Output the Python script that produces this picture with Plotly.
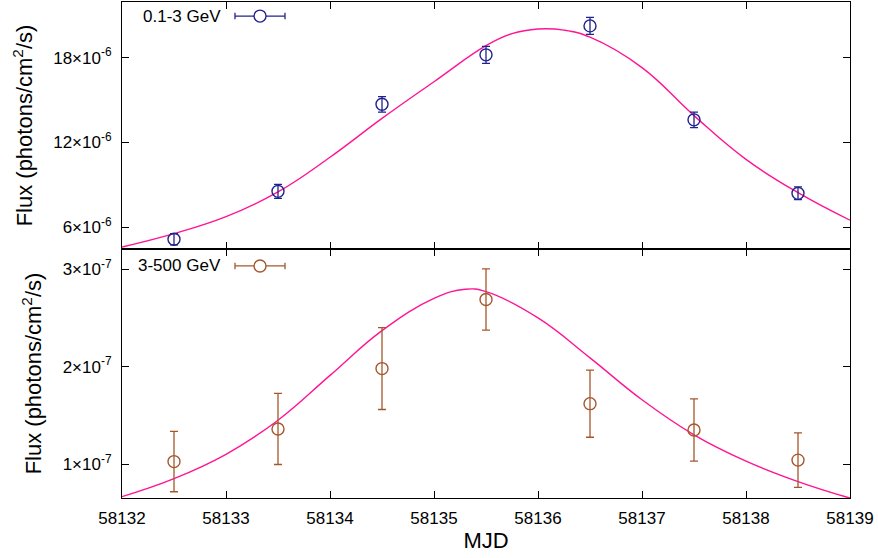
import plotly.graph_objects as go

# ---- data ----
mjd = [58132.5, 58133.5, 58134.5, 58135.5, 58136.5, 58137.5, 58138.5]
flux_low = [5.15e-6, 8.54e-6, 14.7e-6, 18.2e-6, 20.25e-6, 13.6e-6, 8.4e-6]
err_low = [0.4e-6, 0.5e-6, 0.55e-6, 0.6e-6, 0.6e-6, 0.55e-6, 0.45e-6]
flux_high = [1.025e-7, 1.36e-7, 1.98e-7, 2.69e-7, 1.62e-7, 1.35e-7, 1.04e-7]
err_high = [0.31e-7, 0.365e-7, 0.42e-7, 0.315e-7, 0.345e-7, 0.32e-7, 0.28e-7]

fit_x = [58132.0, 58132.5, 58133.0, 58133.5, 58134.0, 58134.5, 58135.0, 58135.5,
         58135.75, 58136.0, 58136.25, 58136.5, 58137.0, 58137.5, 58138.0, 58138.5, 58139.0]
fit_low = [4.6e-6, 5.55e-6, 6.75e-6, 8.5e-6, 10.95e-6, 13.7e-6, 16.3e-6, 18.85e-6,
           19.7e-6, 20.03e-6, 19.95e-6, 19.45e-6, 17.3e-6, 13.9e-6, 10.8e-6, 8.45e-6, 6.5e-6]
fit_x2 = [58132.0, 58132.5, 58133.0, 58133.5, 58134.0, 58134.5, 58135.0, 58135.3, 58135.5,
          58136.0, 58136.5, 58137.0, 58137.5, 58138.0, 58138.5, 58139.0]
fit_high = [0.665e-7, 0.85e-7, 1.10e-7, 1.45e-7, 1.91e-7, 2.37e-7, 2.70e-7, 2.795e-7, 2.77e-7,
            2.50e-7, 2.09e-7, 1.66e-7, 1.30e-7, 1.03e-7, 0.82e-7, 0.65e-7]

xticks = [58132, 58133, 58134, 58135, 58136, 58137, 58138, 58139]
yt_low = [6e-6, 12e-6, 18e-6]
yt_low_text = ["6×10<sup>-6</sup>", "12×10<sup>-6</sup>", "18×10<sup>-6</sup>"]
yt_high = [1e-7, 2e-7, 3e-7]
yt_high_text = ["1×10<sup>-7</sup>", "2×10<sup>-7</sup>", "3×10<sup>-7</sup>"]

label_low = "0.1-3 GeV"
label_high = "3-500 GeV"

BLUE = "#22228f"
BROWN = "#a5572c"
PINK = "#ff1493"
FONT = "Liberation Sans, Arial, sans-serif"

fig = go.Figure()

fig.add_trace(go.Scatter(x=fit_x, y=fit_low, mode="lines",
                         line=dict(color=PINK, width=1.4, shape="spline", smoothing=1.2),
                         xaxis="x2", yaxis="y2", showlegend=False, hoverinfo="skip"))
fig.add_trace(go.Scatter(x=mjd, y=flux_low, mode="markers",
                         marker=dict(symbol="circle-open", size=12, color=BLUE, line=dict(width=1.4, color=BLUE)),
                         error_y=dict(type="data", array=err_low, color=BLUE, thickness=1.3, width=4),
                         xaxis="x2", yaxis="y2", showlegend=False))

fig.add_trace(go.Scatter(x=fit_x2, y=fit_high, mode="lines",
                         line=dict(color=PINK, width=1.4, shape="spline", smoothing=1.2),
                         xaxis="x", yaxis="y", showlegend=False, hoverinfo="skip"))
fig.add_trace(go.Scatter(x=mjd, y=flux_high, mode="markers",
                         marker=dict(symbol="circle-open", size=12, color=BROWN, line=dict(width=1.4, color=BROWN)),
                         error_y=dict(type="data", array=err_high, color=BROWN, thickness=1.3, width=4),
                         xaxis="x", yaxis="y", showlegend=False))

axis_common = dict(showline=True, linecolor="black", linewidth=1.2, mirror="ticks",
                   ticks="inside", ticklen=7, tickwidth=1, tickcolor="black",
                   showgrid=False, zeroline=False,
                   tickfont=dict(family=FONT, size=17, color="black"))
ytitle = dict(text="Flux (photons/cm<sup>2</sup>/s)", font=dict(family=FONT, size=22, color="black"), standoff=14)

fig.update_layout(
    width=878, height=558,
    margin=dict(l=122, r=28, t=2, b=60),
    plot_bgcolor="white", paper_bgcolor="white",
    xaxis=dict(range=[58132, 58139], tickvals=xticks, ticktext=[str(v) for v in xticks],
               domain=[0, 1], anchor="y",
               title=dict(text="MJD", font=dict(family=FONT, size=22, color="black"), standoff=6),
               ticklabelstandoff=4, **axis_common),
    xaxis2=dict(range=[58132, 58139], tickvals=xticks, showticklabels=False,
                domain=[0, 1], anchor="y2", **axis_common),
    yaxis=dict(range=[0.651e-7, 3.208e-7], domain=[0, 0.502], anchor="x",
               tickvals=yt_high, ticktext=yt_high_text, title=ytitle,
               ticklabelstandoff=6, **axis_common),
    yaxis2=dict(range=[4.46e-6, 21.94e-6], domain=[0.502, 1], anchor="x2",
                tickvals=yt_low, ticktext=yt_low_text, title=ytitle,
                ticklabelstandoff=6, **axis_common),
)

# ---- legend samples (drawn manually: text left, symbol right) ----
def add_legend(xref, yref, ydom, label, color):
    fig.add_annotation(xref=xref, yref=yref, x=0.1387, y=ydom, text=label, showarrow=False,
                       xanchor="right", yanchor="middle", font=dict(family=FONT, size=17, color="black"))
    fig.add_shape(type="line", xref=xref, yref=yref, x0=0.1552, x1=0.2239, y0=ydom, y1=ydom,
                  line=dict(color=color, width=1.3))
    for xc in (0.1552, 0.2239):
        fig.add_shape(type="line", xref=xref, yref=yref,
                      x0=xc, x1=xc, y0=ydom - 0.013, y1=ydom + 0.013, line=dict(color=color, width=1.3))
    fig.add_shape(type="circle", xref=xref, yref=yref, xsizemode="pixel", ysizemode="pixel",
                  xanchor=0.1896, yanchor=ydom, x0=-6, x1=6, y0=-6, y1=6,
                  line=dict(color=color, width=1.4), fillcolor="white")

add_legend("x2 domain", "y2 domain", 0.943, label_low, BLUE)
add_legend("x domain", "y domain", 0.932, label_high, BROWN)

fig.write_html("out.html")
